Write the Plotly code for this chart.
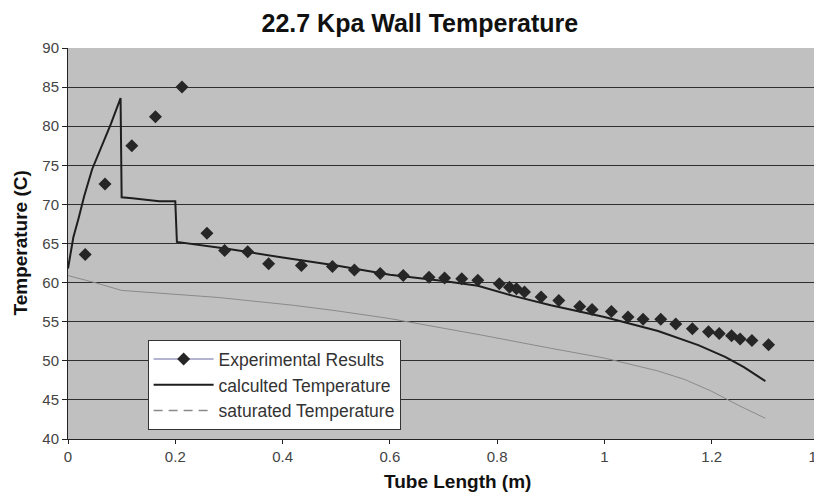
import plotly.graph_objects as go

# Experimental results (diamonds)
exp_x = [0.032, 0.069, 0.119, 0.163, 0.2125, 0.259, 0.292, 0.335, 0.374, 0.435, 0.493, 0.534,
         0.582, 0.625, 0.673, 0.702, 0.734, 0.764, 0.804, 0.823, 0.836, 0.851, 0.882, 0.915,
         0.954, 0.977, 1.013, 1.044, 1.072, 1.105, 1.133, 1.164, 1.194, 1.214, 1.237, 1.253,
         1.275, 1.306]
exp_y = [63.6, 72.6, 77.5, 81.2, 85.0, 66.3, 64.1, 63.95, 62.4, 62.2, 62.05, 61.6,
         61.15, 60.9, 60.7, 60.6, 60.5, 60.3, 59.85, 59.4, 59.2, 58.8, 58.15, 57.7,
         56.95, 56.55, 56.3, 55.6, 55.3, 55.3, 54.7, 54.1, 53.7, 53.5, 53.2, 52.8,
         52.6, 52.05]

# Calculated temperature
calc_x = [0, 0.005, 0.01, 0.02, 0.03, 0.045, 0.06, 0.08, 0.098, 0.1, 0.12, 0.15, 0.17,
          0.2, 0.203, 0.3, 0.4, 0.5, 0.6, 0.7, 0.764, 0.83, 0.9, 1.0, 1.1, 1.175, 1.225,
          1.26, 1.3]
calc_y = [61.8, 64.0, 65.8, 68.3, 71.0, 74.5, 77.0, 80.3, 83.6, 70.9, 70.8, 70.6, 70.4,
          70.4, 65.2, 64.3, 63.2, 62.2, 61.0, 60.2, 59.6, 58.3, 57.1, 55.6, 53.8, 52.0, 50.5,
          49.2, 47.4]

# Saturated temperature
sat_x = [0, 0.05, 0.1, 0.12, 0.2, 0.28, 0.42, 0.5, 0.6, 0.7, 0.77, 0.9, 1.0, 1.1, 1.15,
         1.2, 1.25, 1.3]
sat_y = [60.9, 60.0, 59.0, 58.9, 58.5, 58.1, 57.1, 56.4, 55.4, 54.2, 53.3, 51.6, 50.35,
         48.7, 47.6, 46.1, 44.3, 42.65]

x_ticks = [0, 0.2, 0.4, 0.6, 0.8, 1.0, 1.2, 1.4]
x_labels = ["0", "0.2", "0.4", "0.6", "0.8", "1", "1.2", "1.4"]
y_ticks = [40, 45, 50, 55, 60, 65, 70, 75, 80, 85, 90]

FONT = "Liberation Sans, Arial, sans-serif"

fig = go.Figure()

fig.add_trace(go.Scatter(x=sat_x, y=sat_y, mode="lines", showlegend=False,
                         line=dict(color="#8a8a8a", width=1)))
fig.add_trace(go.Scatter(x=calc_x, y=calc_y, mode="lines", showlegend=False,
                         line=dict(color="#1e1e1e", width=2)))
fig.add_trace(go.Scatter(x=exp_x, y=exp_y, mode="markers", showlegend=False,
                         marker=dict(symbol="diamond", size=10, color="#262626")))

# legend entries
fig.add_trace(go.Scatter(x=[None], y=[None], mode="lines+markers",
                         name="Experimental Results",
                         line=dict(color="#b4b4d2", width=2),
                         marker=dict(symbol="diamond", size=10, color="#262626")))
fig.add_trace(go.Scatter(x=[None], y=[None], mode="lines",
                         name="calculted Temperature",
                         line=dict(color="#1e1e1e", width=2)))
fig.add_trace(go.Scatter(x=[None], y=[None], mode="lines",
                         name="saturated Temperature",
                         line=dict(color="#8a8a8a", width=1.5, dash="9px,6px")))

fig.update_layout(
    width=814, height=487,
    margin=dict(l=60, r=3, t=40, b=56, autoexpand=False),
    paper_bgcolor="white",
    plot_bgcolor="#c0c0c0",
    font=dict(family=FONT, size=14, color="#333"),
    title=dict(text="<b>22.7 Kpa Wall Temperature</b>", x=0.506, xanchor="center",
               y=0.9686, yanchor="middle",
               font=dict(family=FONT, size=25, color="#111")),
    legend=dict(x=0.106, y=0.253, xanchor="left", yanchor="top",
                bgcolor="white", bordercolor="#333", borderwidth=1,
                font=dict(family=FONT, size=17.5, color="#333"),
                itemwidth=60, tracegroupgap=0),
    xaxis=dict(range=[0, 1.4], tickvals=x_ticks, ticktext=x_labels,
               showgrid=False, zeroline=False, automargin=False,
               showline=True, linecolor="#222", linewidth=1,
               ticks="outside", ticklen=4, tickcolor="#222",
               ticklabeloverflow="allow",
               tickfont=dict(size=15, color="#444")),
    yaxis=dict(range=[40, 90], tickvals=y_ticks,
               showgrid=True, gridcolor="#2e2e2e", gridwidth=1, zeroline=False,
               automargin=False,
               showline=True, linecolor="#222", linewidth=1,
               ticks="outside", ticklen=5, tickcolor="#222",
               tickfont=dict(size=15, color="#444")),
    annotations=[
        dict(text="<b>Tube Length (m)</b>", xref="paper", yref="paper",
             x=0.518, y=0, xanchor="center", yanchor="middle", yshift=-42,
             showarrow=False, font=dict(family=FONT, size=19, color="#111")),
        dict(text="<b>Temperature (C)</b>", xref="paper", yref="paper",
             x=0, y=0.5, xanchor="center", yanchor="middle", xshift=-48,
             textangle=-90, showarrow=False,
             font=dict(family=FONT, size=19, color="#111")),
    ],
)

fig.write_html("out.html")
